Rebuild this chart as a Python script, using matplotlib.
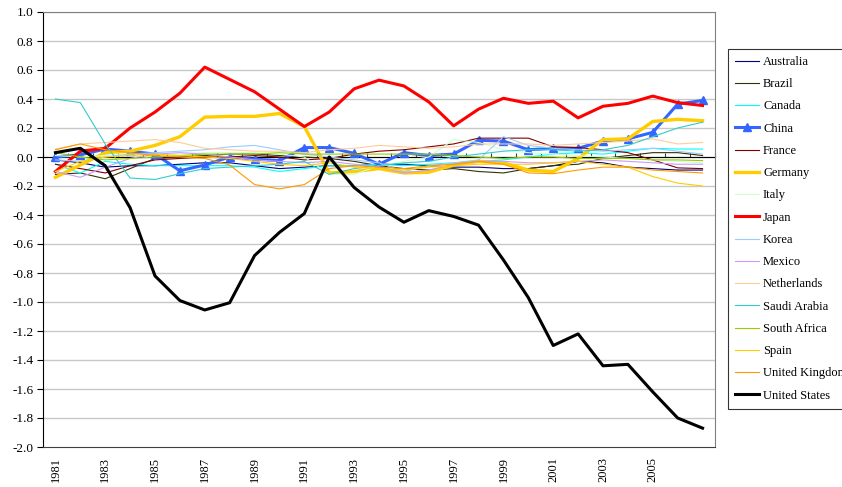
import numpy as np
import matplotlib
matplotlib.use("Agg")
import matplotlib.pyplot as plt

plt.rcParams['font.family'] = ['Liberation Serif', 'DejaVu Serif']

years = list(range(1981, 2008))

australia = [-0.02, -0.04, -0.07, -0.06, -0.06, -0.05, -0.04, -0.04, -0.06, -0.08, -0.07, -0.06, -0.06, -0.05,
             -0.05, -0.06, -0.07, -0.07, -0.08, -0.08, -0.06, -0.03, -0.04, -0.07, -0.08, -0.09, -0.09]
brazil = [-0.12, -0.11, -0.15, -0.08, -0.01, 0.0, 0.01, 0.02, 0.02, 0.01, 0.0, -0.01, -0.03, -0.06,
          -0.08, -0.09, -0.08, -0.10, -0.11, -0.08, -0.06, -0.05, -0.01, 0.01, 0.03, 0.03, 0.01]
canada = [-0.05, -0.11, -0.03, -0.05, -0.06, -0.06, -0.06, -0.06, -0.07, -0.10, -0.08, -0.06, -0.06, -0.05,
          -0.06, -0.05, -0.04, -0.03, -0.02, 0.0, 0.02, 0.03, 0.02, 0.04, 0.06, 0.055, 0.055]
china = [0.0, 0.015, 0.055, 0.04, 0.02, -0.095, -0.055, 0.0, -0.015, -0.025, 0.065, 0.065, 0.025, -0.05,
         0.03, 0.01, 0.02, 0.115, 0.11, 0.05, 0.06, 0.06, 0.11, 0.125, 0.17, 0.365, 0.39]
france = [-0.05, -0.08, -0.11, -0.06, -0.02, -0.01, 0.0, 0.0, 0.01, 0.0, -0.02, -0.01, 0.02, 0.04,
          0.05, 0.07, 0.09, 0.13, 0.13, 0.13, 0.07, 0.065, 0.05, 0.03, -0.02, -0.075, -0.08]
germany = [-0.14, -0.055, 0.03, 0.04, 0.08, 0.14, 0.275, 0.28, 0.28, 0.30, 0.21, -0.11, -0.10, -0.08,
           -0.11, -0.105, -0.055, -0.03, -0.04, -0.09, -0.10, -0.01, 0.12, 0.125, 0.245, 0.26, 0.25]
italy = [0.01, 0.0, 0.01, 0.02, 0.02, 0.02, 0.03, 0.03, 0.03, 0.02, 0.0, -0.12, -0.12, -0.06,
         -0.03, 0.0, 0.12, 0.10, 0.05, 0.03, 0.02, 0.01, 0.0, -0.01, -0.02, -0.03, -0.04]
japan = [-0.10, 0.04, 0.06, 0.20, 0.31, 0.44, 0.62, 0.535, 0.45, 0.33, 0.21, 0.31, 0.47, 0.53,
         0.49, 0.38, 0.215, 0.33, 0.405, 0.37, 0.385, 0.27, 0.35, 0.37, 0.42, 0.375, 0.355]
korea = [-0.02, -0.03, 0.0, 0.02, 0.03, 0.04, 0.05, 0.07, 0.08, 0.05, 0.02, 0.0, -0.02, -0.04,
         -0.10, -0.06, -0.04, -0.02, 0.14, 0.08, 0.06, 0.05, 0.04, 0.05, 0.06, 0.04, 0.02]
mexico = [-0.10, -0.14, -0.07, -0.01, 0.02, 0.03, 0.02, 0.0, -0.02, -0.03, -0.04, -0.03, -0.05, -0.07,
          -0.11, -0.09, -0.05, -0.03, -0.03, -0.04, -0.04, -0.03, -0.02, -0.03, -0.04, -0.05, -0.05]
netherlands = [0.055, 0.09, 0.10, 0.11, 0.12, 0.10, 0.06, 0.05, 0.04, 0.04, 0.03, 0.05, 0.06, 0.08,
               0.07, 0.06, 0.07, 0.09, 0.09, 0.09, 0.08, 0.09, 0.10, 0.11, 0.125, 0.09, 0.10]
saudi_arabia = [0.40, 0.375, 0.09, -0.145, -0.155, -0.115, -0.08, -0.07, -0.06, -0.05, -0.03, -0.12, -0.08, -0.06,
                -0.04, -0.03, 0.0, 0.02, 0.04, 0.05, 0.05, 0.04, 0.05, 0.08, 0.14, 0.20, 0.24]
south_africa = [0.03, 0.0, -0.02, -0.01, 0.0, 0.01, 0.02, 0.02, 0.02, 0.03, 0.02, 0.02, 0.02, 0.02,
                0.02, 0.02, 0.01, 0.0, -0.01, 0.0, 0.0, -0.01, -0.01, -0.01, -0.02, -0.02, -0.025]
spain = [-0.10, -0.03, 0.0, 0.01, 0.02, 0.01, 0.0, -0.01, -0.03, -0.05, -0.06, -0.04, -0.07, -0.08,
         -0.09, -0.07, -0.06, -0.05, -0.05, -0.05, -0.04, -0.03, -0.05, -0.07, -0.135, -0.18, -0.20]
uk = [0.05, 0.09, 0.05, 0.03, 0.01, 0.0, -0.01, -0.055, -0.19, -0.22, -0.19, -0.08, -0.06, -0.07,
      -0.08, -0.06, -0.05, -0.03, -0.05, -0.11, -0.115, -0.09, -0.07, -0.07, -0.09, -0.10, -0.11]
us = [0.03, 0.06, -0.06, -0.35, -0.82, -0.99, -1.055, -1.005, -0.68, -0.52, -0.39, 0.0, -0.21, -0.345,
      -0.45, -0.37, -0.41, -0.47, -0.71, -0.97, -1.30, -1.22, -1.44, -1.43, -1.62, -1.80, -1.87]

series = [
    ("Australia", australia, "#000080", 0.8, None),
    ("Brazil", brazil, "#333300", 0.8, None),
    ("Canada", canada, "#00FFFF", 0.8, None),
    ("China", china, "#3366FF", 2.2, "^"),
    ("France", france, "#800000", 0.8, None),
    ("Germany", germany, "#FFCC00", 2.4, None),
    ("Italy", italy, "#CCFFCC", 0.8, None),
    ("Japan", japan, "#FF0000", 2.2, None),
    ("Korea", korea, "#99CCFF", 0.8, None),
    ("Mexico", mexico, "#CC99FF", 0.8, None),
    ("Netherlands", netherlands, "#FFCC99", 0.8, None),
    ("Saudi Arabia", saudi_arabia, "#33CCCC", 0.8, None),
    ("South Africa", south_africa, "#99CC00", 0.8, None),
    ("Spain", spain, "#FFCC00", 0.8, None),
    ("United Kingdom", uk, "#FF9900", 0.8, None),
    ("United States", us, "#000000", 2.2, None),
]

fig = plt.figure(figsize=(8.42, 4.87), dpi=100)
ax = fig.add_axes([43 / 842, 1 - 447 / 487, (715 - 43) / 842, (447 - 12) / 487])

yticks = np.round(np.arange(-2.0, 1.01, 0.2), 1)
for yv in yticks[1:]:
    ax.axhline(yv, color="#C8C8C8", lw=1.0, zorder=0)

for name, vals, col, lw, mk in series:
    ax.plot(years, vals, color=col, lw=lw, marker=mk, markersize=5.5, label=name)

ax.set_xlim(1980.5, 2007.5)
ax.set_ylim(-2.0, 1.0)
ax.set_yticks(yticks)
ax.set_yticklabels(["%.1f" % (v + 0.0) for v in yticks], fontsize=9.5)
ax.set_xticks(years[::2][:-1])
ax.set_xticklabels([str(y) for y in years[::2][:-1]], rotation=90, fontsize=9)
ax.tick_params(axis="x", length=0, pad=7)
ax.tick_params(axis="y", length=4, direction="out", width=0.8, pad=3)

for s in ["top", "right"]:
    ax.spines[s].set_color("#808080")
    ax.spines[s].set_linewidth(0.8)
ax.spines["left"].set_color("black")
ax.spines["bottom"].set_color("#404040")

# category axis drawn through zero
sec = ax.secondary_xaxis(2 / 3)
sec.set_xticks(np.arange(1980.5, 2008, 1))
sec.set_xticklabels([])
sec.tick_params(length=3, direction="out", color="#404040", width=0.8)
sec.spines["bottom"].set_color("#404040")
sec.spines["bottom"].set_linewidth(1.0)

# legend runs off the right edge, as in the original
leg = fig.legend(loc="upper left", bbox_to_anchor=(728 / 842, 1 - 49 / 487),
                 fontsize=9, frameon=True, fancybox=False, edgecolor="black",
                 labelspacing=0.82, handlelength=1.95, handletextpad=0.3,
                 borderpad=0.55, borderaxespad=0)
leg.get_frame().set_linewidth(0.8)

fig.savefig("out.png", dpi=100)
